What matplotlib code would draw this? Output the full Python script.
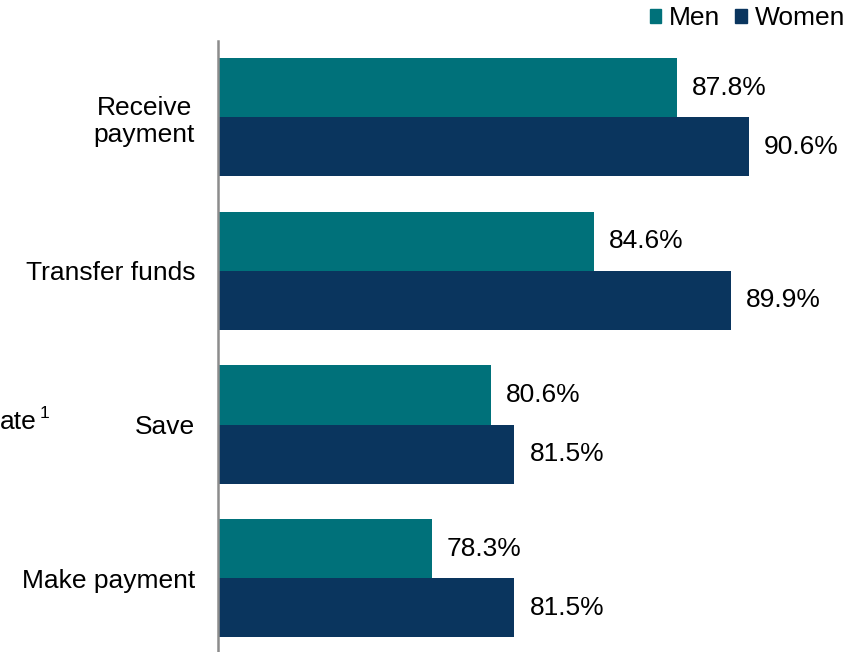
import matplotlib

matplotlib.use("Agg")
import matplotlib.pyplot as plt
from matplotlib.patches import Patch

plt.rcParams["font.family"] = ["Liberation Sans", "DejaVu Sans"]

# usage by purpose, top to bottom
categories = ["Receive\npayment", "Transfer funds", "Save", "Make payment"]
men = [87.8, 84.6, 80.6, 78.3]
women = [90.6, 89.9, 81.5, 81.5]

MEN_COLOR = "#00717A"
WOMEN_COLOR = "#0A355E"
FONT_SIZE = 19
BAR_H = 0.384


def main():
    fig = plt.figure(figsize=(8.62, 6.52), dpi=100)
    ax = fig.add_axes([218 / 862, 0.0, 1 - 218 / 862, (652 - 41) / 652])

    n = len(categories)
    ypos = [n - 1 - i for i in range(n)]

    men_bars = ax.barh([y + BAR_H / 2 for y in ypos], [v - 70 for v in men],
                       left=70, height=BAR_H, color=MEN_COLOR)
    women_bars = ax.barh([y - BAR_H / 2 for y in ypos], [v - 70 for v in women],
                         left=70, height=BAR_H, color=WOMEN_COLOR)

    for bars, vals in ((men_bars, men), (women_bars, women)):
        for bar, v in zip(bars, vals):
            ax.annotate("{:.1f}%".format(v),
                        xy=(v, bar.get_y() + bar.get_height() / 2),
                        xytext=(11, 0), textcoords="offset points",
                        ha="left", va="center", fontsize=FONT_SIZE, color="black")

    ax.set_xlim(70, 95)
    ax.set_ylim(-0.48, 3.495)
    ax.set_yticks(ypos)
    ax.set_yticklabels(categories, fontsize=FONT_SIZE, multialignment="center")
    ax.tick_params(axis="y", length=0, pad=16.5)
    ax.set_xticks([])
    for side in ("top", "right", "bottom"):
        ax.spines[side].set_visible(False)
    ax.spines["left"].set_color("#8C8C8C")
    ax.spines["left"].set_linewidth(1.8)

    # tail of the neighbouring panel's label, running in from the left edge
    fig.text(0.0, 1 - 422 / 652, "ate", ha="left", va="center",
             fontsize=FONT_SIZE, color="black")
    fig.text(40 / 862, 1 - 414 / 652, "1", ha="left", va="center",
             fontsize=12.5, color="black")

    handles = [Patch(color=MEN_COLOR, label="Men"), Patch(color=WOMEN_COLOR, label="Women")]
    fig.legend(handles=handles, loc="upper right", bbox_to_anchor=(845 / 862, 1 - 6 / 652),
               ncol=2, frameon=False, fontsize=FONT_SIZE,
               handlelength=0.44, handleheight=0.44, handletextpad=0.3,
               columnspacing=0.55, borderaxespad=0.0, borderpad=0.0)

    fig.savefig("out.png", dpi=100)
    plt.close(fig)


if __name__ == "__main__":
    main()
